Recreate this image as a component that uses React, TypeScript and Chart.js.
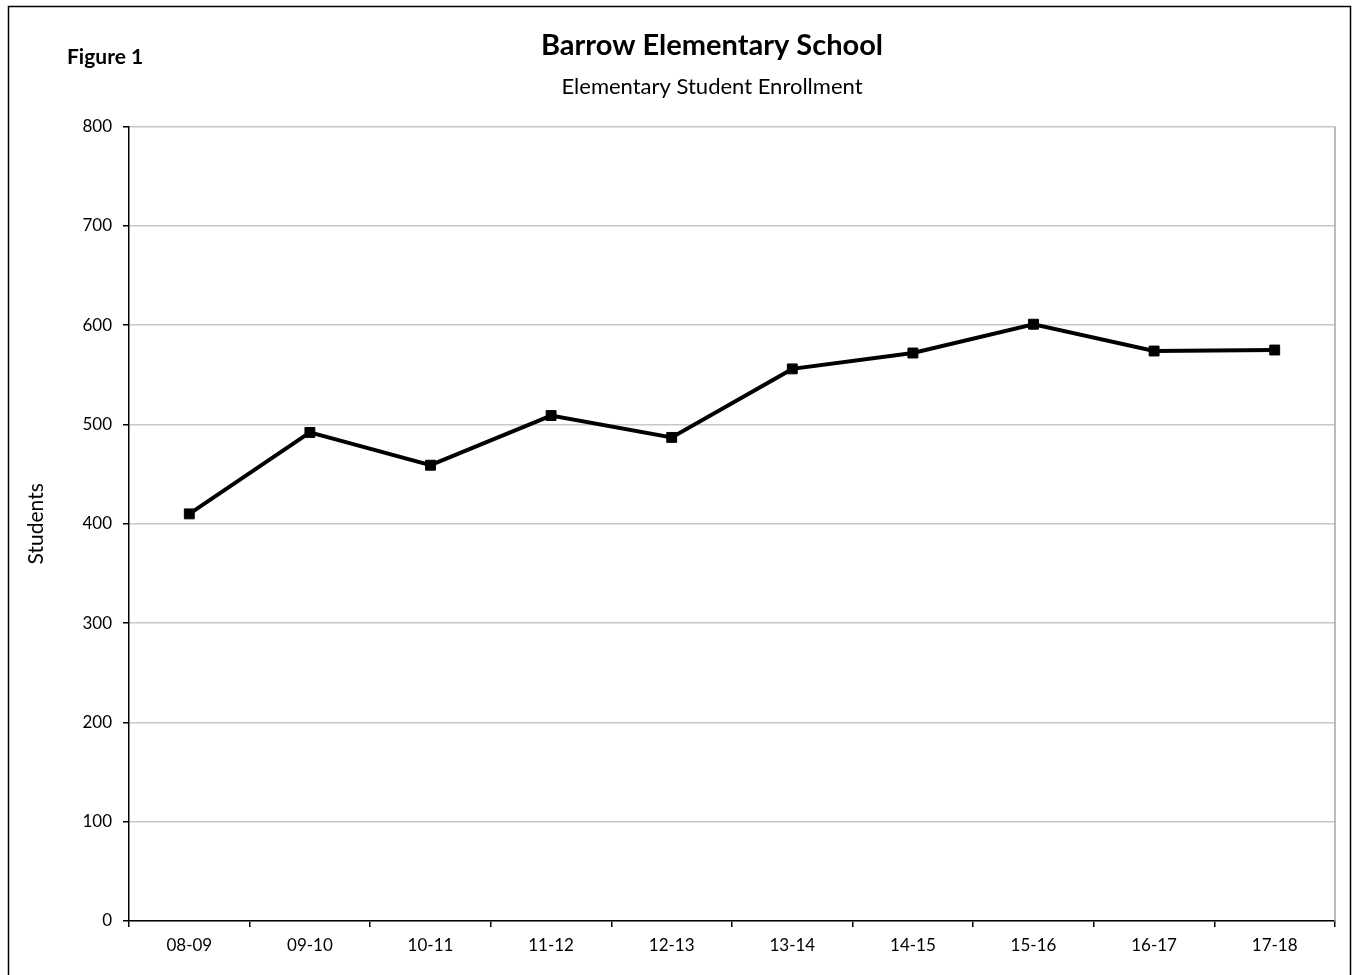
import React, { useEffect, useRef } from "react";
import { Chart, registerables } from "chart.js";

Chart.register(...registerables);

const categories = ["08-09", "09-10", "10-11", "11-12", "12-13", "13-14", "14-15", "15-16", "16-17", "17-18"];
const students = [410, 492, 459, 509, 487, 556, 572, 601, 574, 575];
const yMin = 0;
const yMax = 800;
const yStep = 100;
const titleText = "Barrow Elementary School";
const subtitleText = "Elementary Student Enrollment";
const figureLabel = "Figure 1";
const yAxisLabel = "Students";

const FONT = "Lato";

const framePlugin = {
  id: "frame",
  afterLayout(chart: any) {
    // let the y scale (labels + title) use the whole left margin
    const y = chart.scales.y;
    if (y) y.left = 0;
  },
  afterDraw(chart: any) {
    const { ctx, chartArea } = chart;
    ctx.save();
    // right plot-area edge
    ctx.strokeStyle = "#a6a6a6";
    ctx.lineWidth = 1.5;
    ctx.beginPath();
    ctx.moveTo(chartArea.right, chartArea.top);
    ctx.lineTo(chartArea.right, chartArea.bottom);
    ctx.stroke();
    // outer frame
    ctx.strokeStyle = "#000";
    ctx.lineWidth = 1.5;
    ctx.strokeRect(8.5, 6.5, 1342, 990);
    // figure label
    ctx.fillStyle = "#000";
    ctx.font = `bold 21px ${FONT}`;
    ctx.textBaseline = "middle";
    ctx.textAlign = "left";
    ctx.fillText(figureLabel, 67, 57);
    ctx.restore();
  },
};

export default function App() {
  const ref = useRef<HTMLCanvasElement | null>(null);
  useEffect(() => {
    if (!ref.current) return;
    const chart = new Chart(ref.current, {
      type: "line",
      data: {
        labels: categories,
        datasets: [
          {
            label: yAxisLabel,
            data: students,
            borderColor: "#000",
            backgroundColor: "#000",
            borderWidth: 4,
            pointStyle: "rect",
            pointRadius: 7,
            pointBorderWidth: 1,
            pointBackgroundColor: "#000",
            pointBorderColor: "#000",
            tension: 0,
          },
        ],
      },
      options: {
        responsive: false,
        animation: false,
        layout: { padding: { top: 0, left: 89, right: 18, bottom: 0 } },
        plugins: {
          legend: { display: false },
          tooltip: { enabled: false },
          title: {
            display: true,
            text: titleText,
            color: "#000",
            font: { family: FONT, size: 29, weight: "bold" },
            padding: { top: 28.6, bottom: 0 },
          },
          subtitle: {
            display: true,
            text: subtitleText,
            color: "#000",
            font: { family: FONT, size: 22 },
            padding: { top: 10.8, bottom: 26 },
          },
        },
        scales: {
          x: {
            type: "category",
            offset: true,
            afterFit(scale: any) {
              scale.height = 54;
            },
            grid: {
              offset: true,
              drawOnChartArea: false,
              drawTicks: true,
              tickLength: 6,
              tickColor: "#000",
              lineWidth: 1.5,
            },
            border: { display: true, color: "#000", width: 1.5 },
            ticks: {
              color: "#000",
              font: { family: FONT, size: 17 },
              padding: 8,
              maxRotation: 0,
              autoSkip: false,
            },
          },
          y: {
            min: yMin,
            max: yMax,
            afterFit(scale: any) {
              scale.width = 40;
            },
            grid: {
              color: "#c8c8c8",
              lineWidth: 1.5,
              drawTicks: true,
              tickLength: 6,
              tickColor: "#000",
            },
            border: { display: true, color: "#000", width: 1.5 },
            ticks: {
              stepSize: yStep,
              color: "#000",
              font: { family: FONT, size: 17 },
              padding: 11,
            },
            title: {
              display: true,
              text: yAxisLabel,
              color: "#000",
              font: { family: FONT, size: 21 },
              padding: { top: 24, bottom: 0 },
            },
          },
        },
      },
      plugins: [framePlugin],
    });
    return () => chart.destroy();
  }, []);
  return (
    <div style={{ position: "absolute", left: 0, top: 0, width: 1353, height: 975, background: "#fff" }}>
      <canvas ref={ref} width={1353} height={975} style={{ display: "block" }} />
    </div>
  );
}
